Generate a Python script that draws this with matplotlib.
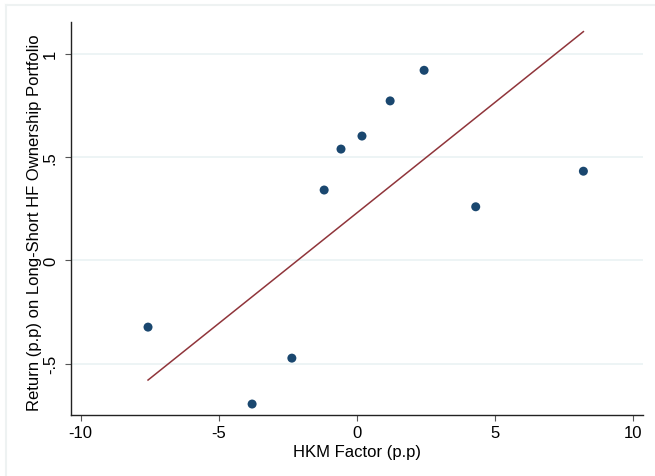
import numpy as np
import matplotlib.pyplot as plt
from matplotlib.lines import Line2D

## data
hkm = [-7.56, -3.79, -2.35, -1.18, -0.57, 0.19, 1.21, 2.44, 4.31, 8.21]
ret = [-0.323, -0.695, -0.473, 0.340, 0.538, 0.601, 0.771, 0.919, 0.259, 0.431]
## fitted line end points
fit_x = [-7.56, 8.21]
fit_y = [-0.579, 1.106]

xticks = [-10, -5, 0, 5, 10]
yticks = [-0.5, 0, 0.5, 1]
yticklabels = ["-.5", "0", ".5", "1"]

plt.rcParams['font.family'] = ['Liberation Sans', 'DejaVu Sans']

fig = plt.figure(figsize=(6.55, 4.77), dpi=100)
ax = fig.add_axes([71/655, 1-416/477, (643.3-71)/655, (416-22.7)/477])

## faint outer frame (stata style)
fig.add_artist(Line2D([6/655, 1], [1-6/477, 1-6/477], color="#eef2f2", lw=1.5))
fig.add_artist(Line2D([6/655, 6/655], [0, 1-6/477], color="#eef2f2", lw=1.5))

for y in yticks:
    ax.axhline(y, color="#eaf2f3", lw=1.2, zorder=0)

ax.plot(fit_x, fit_y, color="#90353b", lw=1.1, zorder=2)
ax.scatter(hkm, ret, s=42, color="#1a476f", edgecolors="none", zorder=3)

ax.set_xlim(-10.35, 10.38)
ax.set_ylim(-0.748, 1.154)
ax.set_xticks(xticks)
ax.set_xticklabels([str(t) for t in xticks])
ax.set_yticks(yticks)
ax.set_yticklabels(yticklabels, rotation=90, va="center")

for s in ["top", "right"]:
    ax.spines[s].set_visible(False)
for s in ["left", "bottom"]:
    ax.spines[s].set_color("#222222")
    ax.spines[s].set_linewidth(1.0)

ax.tick_params(axis="both", direction="out", length=4.1, width=0.8, color="#555555",
               labelsize=12, pad=3)
ax.tick_params(axis="y", pad=5.3)
ax.set_xlabel("HKM Factor (p.p)", fontsize=12, labelpad=3)
ax.set_ylabel("Return (p.p) on Long-Short HF Ownership Portfolio", fontsize=12)
ax.yaxis.set_label_coords(-29/572, 0.491)

fig.savefig("out.png", dpi=100)
